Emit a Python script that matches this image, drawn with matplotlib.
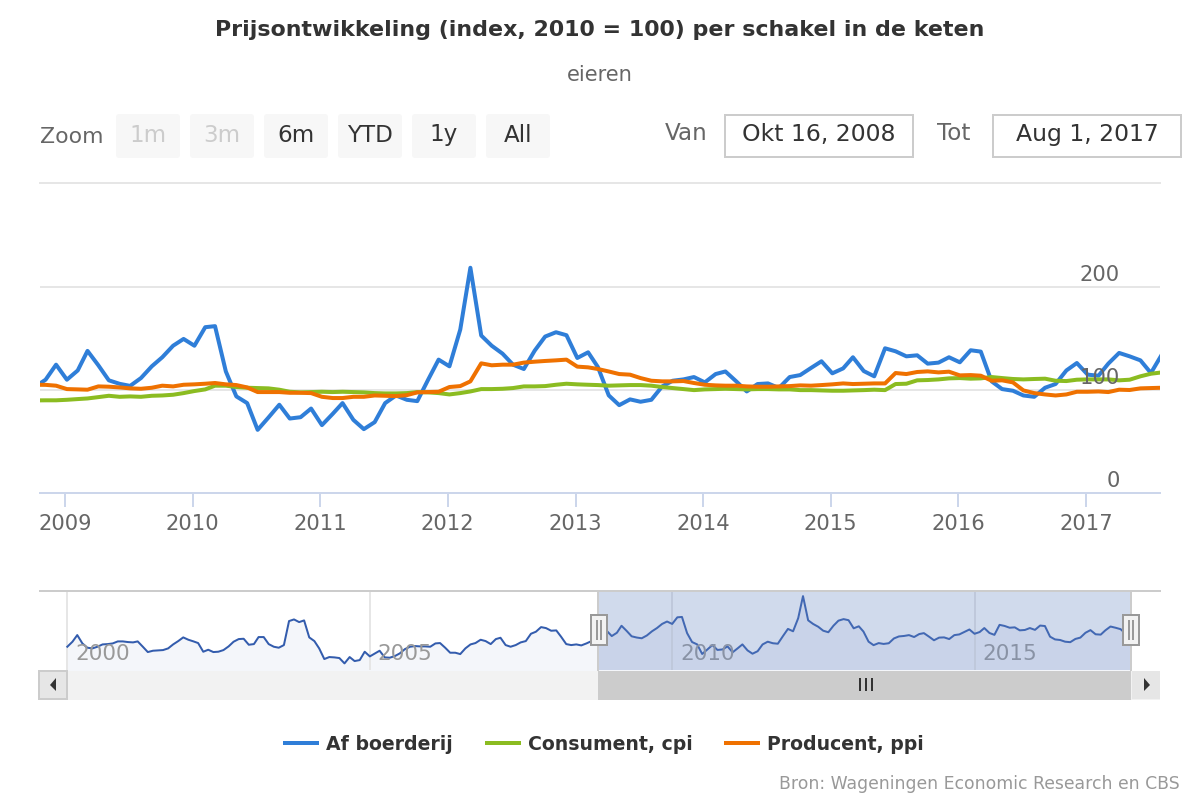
"""Prijsontwikkeling eieren: Highstock-like chart with range selector and navigator."""

import matplotlib
matplotlib.use("Agg")

import matplotlib.pyplot as plt
import pandas as pd
from matplotlib.patches import FancyBboxPatch, Polygon, Rectangle

# monthly values, first point is October 2008
boerderij = [
    103, 110, 124.6, 110, 119, 138, 124, 109.4, 106, 104, 111.6, 123, 131.8, 143, 149.6,
    143, 161, 162, 118, 93.8, 87.3, 61.3, 73.3, 85.7, 72.3, 73.6, 82,
    65.9, 76.9, 87.3, 71, 62, 68.8, 87.3, 94.7, 90.5, 89.2, 110, 129.5,
    123, 158.7, 218.7, 152.9, 143, 135.3, 124.6, 120.4, 138.2, 151.9, 156.1, 153.2,
    131.1, 136.6, 122.3, 94.8, 85.3, 90.9, 88.6, 90.5, 103.5, 109, 110.3, 112.6,
    107.4, 115.5, 118, 108.4, 98.6, 105.8, 106.4, 101.9, 112.6, 114.5, 121.4, 127.9,
    116.2, 121, 131.8, 118.4, 113.3, 140.5, 137.6, 132.7, 133.7, 125.6, 126.6, 131.8,
    126.9, 138.6, 137.3, 108.4, 100.9, 99.3, 94.7, 93.4, 102.2, 105.8, 119, 126.2,
    114.9, 113.9, 125.6, 136, 132.7, 128.8, 116.5, 134.3,
]
consument = [
    89.9, 90, 90, 90.5, 91.2, 91.8, 93.1, 94.4, 93.4, 93.8, 93.4, 94.4, 94.7, 95.4, 97,
    99, 100.6, 104.2, 104.2, 102.9, 102.2, 101.9, 101.6, 100.3, 98.3, 97.7, 98,
    98.3, 98, 98.3, 98, 97.7, 97, 96.7, 96.7, 97, 98, 97.7, 97,
    95.7, 97, 98.6, 100.9, 100.9, 101.2, 101.9, 103.5, 103.5, 103.8, 105.1, 106.1,
    105.5, 105.1, 104.8, 104.2, 104.5, 104.8, 104.8, 104.2, 102.9, 101.9, 100.9, 99.9,
    100.6, 100.9, 101.2, 100.9, 100.6, 100.9, 100.9, 100.6, 100.6, 99.9, 99.9, 99.6,
    99.3, 99.3, 99.6, 99.9, 100.3, 99.9, 105.8, 106.1, 109.4, 109.7, 110.3, 111.3,
    111.6, 111, 111.3, 112.6, 111.6, 110.7, 110.3, 110.7, 111, 109, 108.7, 110,
    110.3, 110.3, 110.3, 109.4, 110, 113.3, 115.8, 117.1,
]
producent = [
    105.1, 105, 104.2, 100.9, 100.6, 100.3, 103.5, 103.2, 102.5, 101.6, 101.2, 102.2, 104.2, 103.5, 105.1,
    105.5, 106.1, 106.8, 105.5, 104.8, 102.5, 98, 98, 98, 97.3, 97.3, 97,
    93.4, 92.2, 92.2, 93.4, 93.4, 94.7, 94.4, 94.1, 95, 97.7, 98, 98.3,
    102.9, 103.8, 108.4, 125.9, 124, 124.6, 124.6, 126.6, 127.5, 128.2, 128.8, 129.5,
    122.7, 122, 120.4, 118, 115.5, 114.9, 111.6, 109, 108.4, 108.4, 108.7, 106.8,
    105.1, 104.5, 104.2, 104.2, 103.5, 103.2, 103.2, 103.5, 103.8, 104.5, 104.2, 104.8,
    105.5, 106.4, 105.8, 106.1, 106.4, 106.4, 116.5, 115.5, 117.5, 118.1, 117.1, 117.8,
    114.2, 114.5, 113.9, 109, 109.4, 107.4, 99.6, 97, 95.7, 94.7, 95.7, 98.3,
    98.3, 98.6, 98, 100.3, 100, 101.6, 101.9, 102.2,
]
# farm price before the main range, only visible in the navigator (Jan 2000 - Sep 2008)
boerderij_vroeg = [
    81, 94.6, 112.7, 90, 78.3, 76.5, 81, 87.3, 88.2, 90, 95.5, 95.5,
    93.7, 92.8, 95.5, 81, 66.5, 70.1, 71, 71.9, 76.5, 87.3, 96.4, 106.4,
    100, 95.5, 91, 67.4, 72.8, 66.5, 67.4, 71.9, 81.9, 94.6, 101.8, 102.7,
    86.4, 88.2, 107.3, 107.3, 88.2, 81, 78.3, 85.5, 150.8, 155.3, 148, 152.6,
    106.4, 96.4, 76.5, 47.5, 52.9, 52, 50.2, 35.7, 52.9, 42, 44.7, 67.4,
    54.7, 62.9, 70.1, 52, 51.1, 55.6, 62.9, 74.6, 81, 82.8, 81.9, 81.9,
    81, 90, 91, 78.3, 64.7, 64.7, 61, 76.5, 87.3, 91, 100, 96.4,
    88.2, 101.8, 105.4, 85.5, 81, 85.5, 92.8, 96.4, 116.3, 121.8, 134.4, 131.7,
    124.5, 125.4, 108.2, 88.2, 85.5, 87.3, 84.6, 90, 96.4,
]

# the points sit a few days into each month in the reference
maanden = pd.date_range("2008-10-01", periods=len(boerderij), freq="MS") + pd.Timedelta(days=5)
alle_maanden = pd.date_range("2000-01-01", periods=len(boerderij_vroeg) + len(boerderij), freq="MS")

jaren = [2009, 2010, 2011, 2012, 2013, 2014, 2015, 2016, 2017]
nav_jaren = [2000, 2005, 2010, 2015]
y_ticks = [0, 100, 200]
knoppen = ["1m", "3m", "6m", "YTD", "1y", "All"]

BLAUW = "#2f7ed8"
GROEN = "#8bbc21"
ORANJE = "#ef7100"
W, H = 1200, 800


def px_axes(fig, left, top, right, bottom, **kwargs):
    """Axes placed by pixel edges, y counted from the top of the figure."""
    return fig.add_axes([left / W, 1 - bottom / H, (right - left) / W, (bottom - top) / H], **kwargs)


def pt(px):
    """Font size or line width in points for a pixel size at dpi 100."""
    return px * 0.72


plt.rcParams["font.family"] = "DejaVu Sans"
fig = plt.figure(figsize=(12, 8), dpi=100)

# main chart
ax = px_axes(fig, 40, 183, 1160, 493)
ax.plot(maanden, boerderij, color=BLAUW, lw=pt(4), label="Af boerderij", solid_joinstyle="round", zorder=3)
ax.plot(maanden, consument, color=GROEN, lw=pt(4), label="Consument, cpi", solid_joinstyle="round", zorder=4)
ax.plot(maanden, producent, color=ORANJE, lw=pt(4), label="Producent, ppi", solid_joinstyle="round", zorder=5)
ax.set_xlim(pd.Timestamp("2008-10-21"), pd.Timestamp("2017-08-01"))
ax.set_ylim(0, 301)
ax.set_yticks(y_ticks)
ax.yaxis.grid(True, color="#e6e6e6", lw=pt(2))
ax.tick_params(axis="y", left=False, labelleft=False)
for v in y_ticks:
    ax.annotate(str(v), (1, v), xycoords=("axes fraction", "data"), xytext=(-40, 12),
                textcoords=("offset pixels"), ha="right", va="center",
                fontsize=pt(21), color="#666666", zorder=6)
ax.set_xticks([pd.Timestamp(f"{j}-01-01") for j in jaren])
ax.set_xticklabels([str(j) for j in jaren], fontsize=pt(21), color="#666666")
ax.tick_params(axis="x", length=pt(14), width=pt(2), color="#ccd6eb", pad=pt(7))
for side in ["left", "right"]:
    ax.spines[side].set_visible(False)
ax.spines["top"].set_color("#e6e6e6")
ax.spines["top"].set_linewidth(pt(2))
ax.spines["bottom"].set_color("#ccd6eb")
ax.spines["bottom"].set_linewidth(pt(2))

# navigator
nav = px_axes(fig, 40, 591, 1160, 670)
nav.fill_between(alle_maanden, boerderij_vroeg + boerderij, -20, color="#335cad", alpha=0.05, lw=0)
nav.plot(alle_maanden, boerderij_vroeg + boerderij, color="#335cad", lw=pt(2), zorder=3)
nav.set_xlim(pd.Timestamp("1999-07-20"), pd.Timestamp("2018-01-25"))
nav.set_ylim(17.7, 232.6)
nav.set_yticks([])
nav.set_xticks([pd.Timestamp(f"{j}-01-01") for j in nav_jaren])
nav.set_xticklabels([])
nav.tick_params(axis="x", length=0)
nav.xaxis.grid(True, color="#e6e6e6", lw=pt(2))
for side in ["left", "right", "bottom"]:
    nav.spines[side].set_visible(False)
nav.spines["top"].set_color("#cccccc")
nav.spines["top"].set_linewidth(pt(2))
for j in nav_jaren:
    nav.annotate(str(j), (pd.Timestamp(f"{j}-01-01"), 0), xycoords=("data", "axes fraction"),
                 xytext=(8, 16), textcoords="offset pixels", ha="left", va="center",
                 fontsize=pt(21.5), color="#999999")

# page furniture in pixel coordinates: buttons, date boxes, scrollbar, texts
ui = fig.add_axes([0, 0, 1, 1], zorder=10)
ui.set_xlim(0, W)
ui.set_ylim(H, 0)
ui.axis("off")
ui.patch.set_alpha(0)

ui.text(600, 30, "Prijsontwikkeling (index, 2010 = 100) per schakel in de keten", ha="center", va="center",
        fontsize=pt(22.2), fontweight="bold", color="#333333")
ui.text(600, 75, "eieren", ha="center", va="center", fontsize=pt(21), color="#666666")

ui.text(40, 137, "Zoom", ha="left", va="center", fontsize=pt(22), color="#666666")
for i, label in enumerate(knoppen):
    x0 = 116 + i * 74
    ui.add_patch(FancyBboxPatch((x0 + 3, 117), 58, 38, boxstyle="round,pad=3", fc="#f7f7f7", ec="none"))
    ui.text(x0 + 32, 135, label, ha="center", va="center", fontsize=pt(23),
            color="#cccccc" if i < 2 else "#333333")

ui.text(665, 134, "Van", ha="left", va="center", fontsize=pt(23), color="#666666")
ui.text(937, 134, "Tot", ha="left", va="center", fontsize=pt(23), color="#666666")
for x0, x1, label in [(725, 913, "Okt 16, 2008"), (993, 1181, "Aug 1, 2017")]:
    ui.add_patch(Rectangle((x0, 115), x1 - x0, 42, fc="white", ec="#cccccc", lw=pt(2)))
    ui.text((x0 + x1) / 2, 134, label, ha="center", va="center", fontsize=pt(23.5), color="#333333")

# selected range
ui.add_patch(Rectangle((598, 592), 533, 78, fc="#6685c2", alpha=0.3, ec="none"))
ui.plot([598, 598], [592, 670], color="#cccccc", lw=pt(2))
ui.plot([1131, 1131], [592, 670], color="#cccccc", lw=pt(2))

# scrollbar
ui.add_patch(Rectangle((40, 671), 1120, 29, fc="#f2f2f2", ec="none"))
ui.add_patch(Rectangle((598, 671), 533, 29, fc="#cccccc", ec="none"))
ui.add_patch(Rectangle((39, 671), 28, 28, fc="#e6e6e6", ec="#cccccc", lw=pt(2)))
ui.add_patch(Rectangle((1132, 671), 28, 28, fc="#e6e6e6", ec="none"))
ui.add_patch(Polygon([(56, 678), (56, 691), (50, 685)], fc="#333333", ec="none"))
ui.add_patch(Polygon([(1144, 678), (1144, 691), (1150, 685)], fc="#333333", ec="none"))
for x in [860, 866, 872]:
    ui.plot([x, x], [679, 690], color="#333333", lw=pt(2))

# navigator handles
for xc in [598.5, 1131]:
    ui.add_patch(Rectangle((xc - 8, 615), 16, 30, fc="#f2f2f2", ec="#999999", lw=pt(2), zorder=5))
    for dx in [-2, 2]:
        ui.plot([xc + dx, xc + dx], [621, 639], color="#999999", lw=pt(2), zorder=6)

handles, labels = ax.get_legend_handles_labels()
leg = fig.legend(handles, labels, loc="center", bbox_to_anchor=(604.5 / W, 1 - 744 / H), ncol=3, frameon=False,
                 prop={"size": pt(18.9), "weight": "bold"}, labelcolor="#333333",
                 handlelength=1.69, handletextpad=0.48, columnspacing=1.8)
leg.set_zorder(11)

ui.text(1180, 784, "Bron: Wageningen Economic Research en CBS", ha="right", va="center",
        fontsize=pt(17.3), color="#999999")

fig.savefig("out.png", dpi=100)
